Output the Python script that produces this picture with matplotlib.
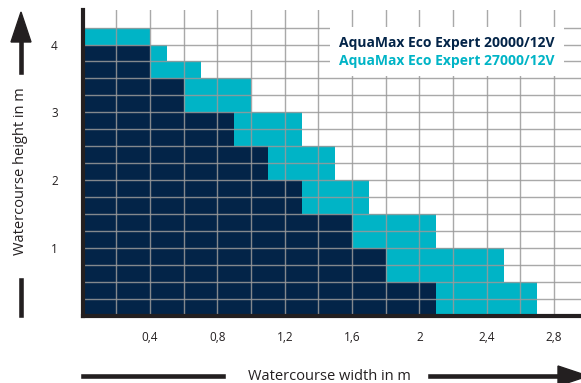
import matplotlib.pyplot as plt
from matplotlib.lines import Line2D
from matplotlib.patches import Polygon, Rectangle
from matplotlib.transforms import IdentityTransform

plt.rcParams['font.family'] = ['Open Sans', 'DejaVu Sans']

# rows of 0.25 m watercourse height, from the bottom up
row_bottoms = [0.0, 0.25, 0.5, 0.75, 1.0, 1.25, 1.5, 1.75, 2.0, 2.25,
               2.5, 2.75, 3.0, 3.25, 3.5, 3.75, 4.0]
width_20000 = [2.1, 2.1, 1.8, 1.8, 1.6, 1.6, 1.3, 1.3, 1.1, 1.1,
               0.9, 0.9, 0.6, 0.6, 0.4, 0.4, 0.0]
width_27000 = [2.7, 2.7, 2.5, 2.5, 2.1, 2.1, 1.7, 1.7, 1.5, 1.5,
               1.3, 1.3, 1.0, 1.0, 0.7, 0.5, 0.4]
xticks = [0.4, 0.8, 1.2, 1.6, 2.0, 2.4, 2.8]
xtick_labels = ['0,4', '0,8', '1,2', '1,6', '2', '2,4', '2,8']
yticks = [1, 2, 3, 4]
label_20000 = 'AquaMax Eco Expert 20000/12V'
label_27000 = 'AquaMax Eco Expert 27000/12V'

navy = '#032448'
cyan = '#00b4c6'
black = '#231f20'

fig = plt.figure(figsize=(5.81, 3.83), dpi=100)
ax = fig.add_axes([82.7 / 581, 67.5 / 383, (581 - 82.7) / 581, (373 - 67.5) / 383])

ax.barh(row_bottoms, width_27000, height=0.25, align='edge', color=cyan, zorder=1)
ax.barh(row_bottoms, width_20000, height=0.25, align='edge', color=navy, zorder=2)

ax.set_xlim(0, 2.96)
ax.set_ylim(0, 4.51)

# grid drawn over the bars
for gx in [0.2 * i for i in range(1, 15)]:
    ax.axvline(gx, color='#9a9a9a', lw=1, alpha=0.85, zorder=3)
for gy in [0.25 * i for i in range(1, 18)]:
    ax.axhline(gy, color='#9a9a9a', lw=1, alpha=0.85, zorder=3)

# legend box on white
ax.add_patch(Rectangle((1.47, 3.53), 1.39, 0.73, facecolor='white',
                       edgecolor='none', zorder=4))
ax.text(2.8, 4.03, label_20000, color=navy, fontsize=10, fontweight='bold',
        ha='right', va='center', zorder=5)
ax.text(2.8, 3.75, label_27000, color=cyan, fontsize=10, fontweight='bold',
        ha='right', va='center', zorder=5)

ax.set_xticks(xticks)
ax.set_xticklabels(xtick_labels)
ax.set_yticks(yticks)
ax.tick_params(length=0, labelsize=8.5, colors=black, pad=11)
ax.tick_params(axis='y', pad=18)
for side in ['top', 'right']:
    ax.spines[side].set_visible(False)
for side in ['left', 'bottom']:
    ax.spines[side].set_linewidth(3)
    ax.spines[side].set_color(black)
    ax.spines[side].set_zorder(6)

# axis titles with arrows, in figure pixels
px = IdentityTransform()
fig.text(21 / 581, 1 - 171 / 383, 'Watercourse height in m', rotation=90,
         ha='center', va='center', fontsize=10.5, color=black)
fig.text(329 / 581, 1 - 376 / 383, 'Watercourse width in m',
         ha='center', va='center', fontsize=10.5, color=black)

fig.add_artist(Line2D([21, 21], [383 - 72, 383 - 40], lw=3.3, color=black, transform=px))
fig.add_artist(Polygon([[11, 383 - 42], [31, 383 - 42], [21, 383 - 12]],
                       closed=True, color=black, transform=px))
fig.add_artist(Line2D([21, 21], [383 - 315, 383 - 280], lw=3.3, color=black, transform=px))
fig.add_artist(Line2D([83, 223], [7, 7], lw=3.3, color=black, transform=px))
fig.add_artist(Line2D([430, 562], [7, 7], lw=3.3, color=black, transform=px))
fig.add_artist(Polygon([[558, 17], [558, -3], [588, 7]],
                       closed=True, color=black, transform=px))

fig.savefig('out.png', dpi=100)
